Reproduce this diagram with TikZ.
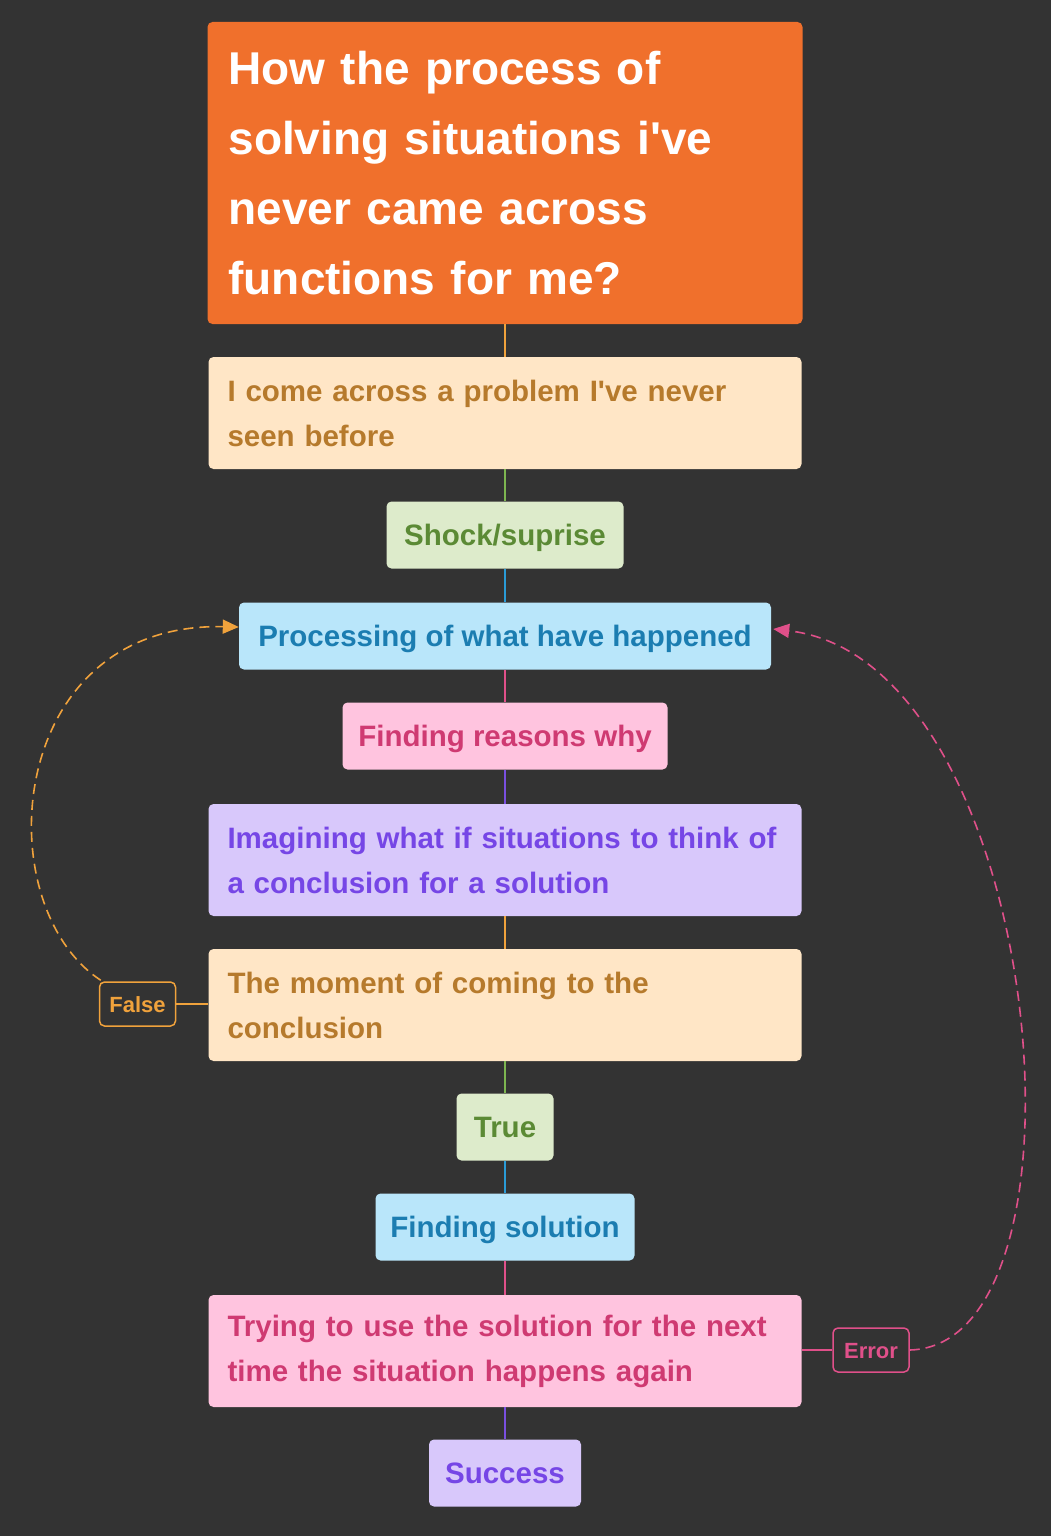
\documentclass[tikz,border=0pt]{standalone}
\usepackage{fontspec}
\setmainfont{Liberation Sans}
\usetikzlibrary{arrows.meta}
\definecolor{bg}{HTML}{333333}
\definecolor{titlefill}{HTML}{F0702C}
\definecolor{peachfill}{HTML}{FFE6C6}
\definecolor{peachtext}{HTML}{B67A2C}
\definecolor{greenfill}{HTML}{DDEBCB}
\definecolor{greentext}{HTML}{5B8A35}
\definecolor{bluefill}{HTML}{B9E6FA}
\definecolor{bluetext}{HTML}{1B7DB1}
\definecolor{pinkfill}{HTML}{FFC4DF}
\definecolor{pinktext}{HTML}{CF3A72}
\definecolor{purplefill}{HTML}{D8C8FB}
\definecolor{purpletext}{HTML}{7646E6}
\definecolor{orangeline}{HTML}{F0A23C}
\definecolor{greenline}{HTML}{7DB550}
\definecolor{blueline}{HTML}{2A9BD6}
\definecolor{pinkline}{HTML}{E0508A}
\definecolor{purpleline}{HTML}{7A4FE0}
\newcommand{\apos}{\textquotesingle}
\begin{document}
\begin{tikzpicture}[x=1pt,y=-1pt,
  box/.style={rounded corners=5pt, inner ysep=0pt, font=\bfseries\fontsize{29.5}{45}\selectfont},
  widebox/.style={box, inner xsep=19pt, text width=555pt, minimum height=112pt, align=left},
  smallbox/.style={box, inner xsep=0pt, minimum height=67pt, text height=21pt, text depth=0pt},
  peach/.style={fill=peachfill, text=peachtext},
  green/.style={fill=greenfill, text=greentext},
  blue/.style={fill=bluefill, text=bluetext},
  pink/.style={fill=pinkfill, text=pinktext},
  purple/.style={fill=purplefill, text=purpletext},
  tag/.style={draw, rounded corners=5pt, line width=1.5pt, fill=bg, inner sep=0pt,
    minimum width=76pt, minimum height=44pt, text height=16pt, text depth=0pt,
    font=\bfseries\fontsize{22}{26}\selectfont},
  link/.style={line width=1.6pt},
  loop/.style={line width=1.6pt, dash pattern=on 10pt off 6pt, -{Triangle[length=16pt,width=14pt]}}
]
\useasboundingbox (0,0) rectangle (1051,1536);
\fill[bg] (0,0) rectangle (1051,1536);

\node[box, fill=titlefill, text=white, inner xsep=21pt, text width=553pt, minimum height=302pt,
  align=left, font=\bfseries\fontsize{46}{70}\selectfont] (title) at (505,173)
  {How the process of\\solving situations i\apos ve\\never came across\\functions for me?};
\node[widebox, peach] (n1) at (505,413) {I come across a problem I\apos ve never\\seen before};
\node[smallbox, green, minimum width=237pt] (n2) at (505,535) {Shock/suprise};
\node[smallbox, blue, minimum width=532pt] (n3) at (505,636) {Processing of what have happened};
\node[smallbox, pink, minimum width=325pt] (n4) at (505,736) {Finding reasons why};
\node[widebox, purple] (n5) at (505,860) {Imagining what if situations to think of\\a conclusion for a solution};
\node[widebox, peach] (n6) at (505,1005) {The moment of coming to the\\conclusion};
\node[smallbox, green, minimum width=97pt] (n7) at (505,1127) {True};
\node[smallbox, blue, minimum width=259pt] (n8) at (505,1227) {Finding solution};
\node[widebox, pink] (n9) at (505,1351) {Trying to use the solution for the next\\time the situation happens again};
\node[smallbox, purple, minimum width=152pt] (n10) at (505,1473) {Success};

\node[tag, draw=orangeline, text=orangeline] (false) at (137.5,1004) {False};
\node[tag, draw=pinkline, text=pinkline] (error) at (871,1350) {Error};

\draw[link, orangeline] (title.south) -- (n1.north);
\draw[link, greenline] (n1.south) -- (n2.north);
\draw[link, blueline] (n2.south) -- (n3.north);
\draw[link, pinkline] (n3.south) -- (n4.north);
\draw[link, purpleline] (n4.south) -- (n5.north);
\draw[link, orangeline] (n5.south) -- (n6.north);
\draw[link, greenline] (n6.south) -- (n7.north);
\draw[link, blueline] (n7.south) -- (n8.north);
\draw[link, pinkline] (n8.south) -- (n9.north);
\draw[link, purpleline] (n9.south) -- (n10.north);

\draw[link, orangeline] (n6.west |- false.east) -- (false.east);
\draw[link, pinkline] (n9.east |- error.west) -- (error.west);

\coordinate (p3l) at ([yshift=9pt]n3.west);
\coordinate (p3r) at ([xshift=2pt,yshift=7pt]n3.east);
\draw[loop, orangeline] ([shift={(2pt,1pt)}]false.north west) .. controls (-14,905) and (5,622) .. (p3l);
\draw[loop, pinkline] (error.east) .. controls (1105,1345) and (1045,660) .. (p3r);
\end{tikzpicture}
\end{document}
